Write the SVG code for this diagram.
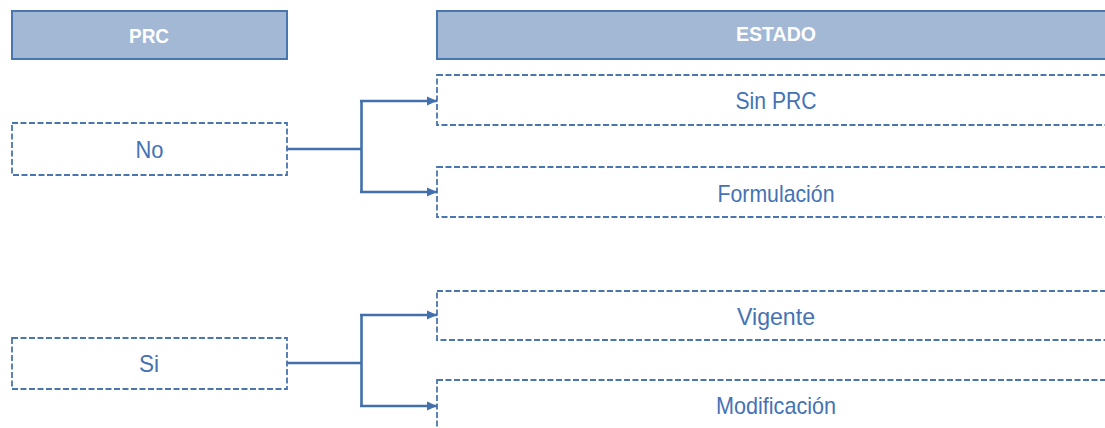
<svg xmlns="http://www.w3.org/2000/svg" width="1105" height="428" viewBox="0 0 1105 428">
<style>
.hdr{fill:#a3b8d5;stroke:#4a76b0;stroke-width:2}
.hdrt{fill:#ffffff;font-family:"Liberation Sans",Arial,sans-serif;font-weight:bold;font-size:20px;text-anchor:middle}
.box{fill:#ffffff;stroke:#4a76b0;stroke-width:1.8;stroke-dasharray:6 2.5}
.lbl{fill:#4572b4;font-family:"Liberation Sans",Arial,sans-serif;font-size:24px;text-anchor:middle}
.conn{fill:none;stroke:#4170ad;stroke-width:2.6}
</style>
<defs>
<marker id="arr" markerWidth="12" markerHeight="12" refX="10" refY="6" orient="auto" markerUnits="userSpaceOnUse">
<path d="M0,1.5 L10,6 L0,10.5 Z" fill="#4170ad"/>
</marker>
</defs>
<g id="hdr-prc"><rect class="hdr" x="12" y="11" width="275" height="48"/><text class="hdrt" x="149" y="43" textLength="40" lengthAdjust="spacingAndGlyphs">PRC</text></g>
<g id="hdr-estado"><rect class="hdr" x="437" y="11" width="690" height="48"/><text class="hdrt" x="776" y="41" textLength="80" lengthAdjust="spacingAndGlyphs">ESTADO</text></g>
<g id="no"><rect class="box" x="12" y="123" width="275" height="52"/><text class="lbl" x="149.5" y="158" textLength="28" lengthAdjust="spacingAndGlyphs">No</text></g>
<g id="si"><rect class="box" x="12" y="338" width="275" height="51"/><text class="lbl" x="149" y="372" textLength="20" lengthAdjust="spacingAndGlyphs">Si</text></g>
<g id="sinprc"><rect class="box" x="437" y="75" width="690" height="50"/><text class="lbl" x="776" y="109" textLength="81" lengthAdjust="spacingAndGlyphs">Sin PRC</text></g>
<g id="formulacion"><rect class="box" x="437" y="167" width="690" height="50"/><text class="lbl" x="776" y="202" textLength="117" lengthAdjust="spacingAndGlyphs">Formulación</text></g>
<g id="vigente"><rect class="box" x="437" y="291" width="690" height="49"/><text class="lbl" x="776" y="325" textLength="78" lengthAdjust="spacingAndGlyphs">Vigente</text></g>
<g id="modificacion"><rect class="box" x="437" y="380" width="690" height="60"/><text class="lbl" x="776" y="414" textLength="120" lengthAdjust="spacingAndGlyphs">Modificación</text></g>
<g id="connectors">
<path class="conn" d="M287,149 H361.5"/>
<path class="conn" d="M361.5,101 V192"/>
<path class="conn" d="M360,101 H437" marker-end="url(#arr)"/>
<path class="conn" d="M360,192 H437" marker-end="url(#arr)"/>
<path class="conn" d="M287,363 H361.5"/>
<path class="conn" d="M361.5,315 V406"/>
<path class="conn" d="M360,315 H437" marker-end="url(#arr)"/>
<path class="conn" d="M360,406 H437" marker-end="url(#arr)"/>
</g>
</svg>
